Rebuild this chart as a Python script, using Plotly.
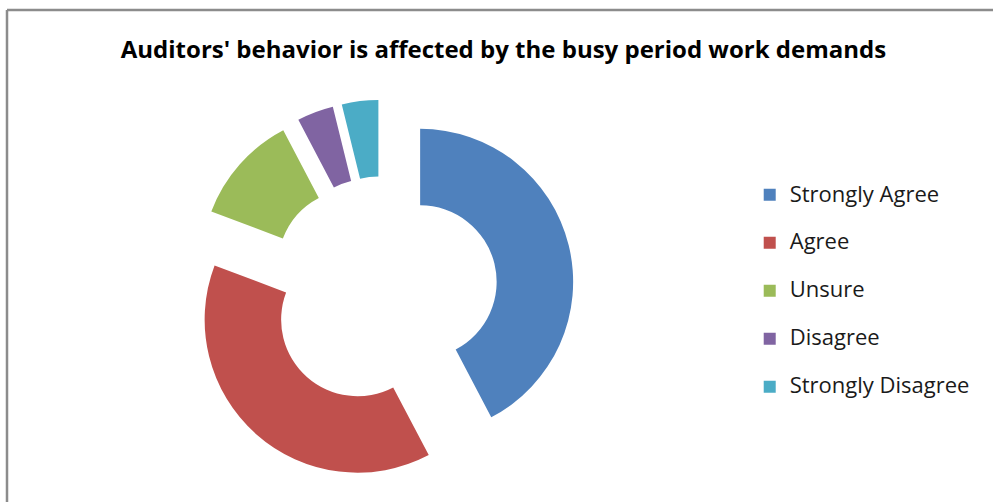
import plotly.graph_objects as go

# Survey responses
categories = ["Strongly Agree", "Agree", "Unsure", "Disagree", "Strongly Disagree"]
counts = [33, 30, 9, 3, 3]
colors = ["#4F81BD", "#C0504D", "#9BBB59", "#8064A2", "#4BACC6"]

title_text = "Auditors' behavior is affected by the busy period work demands"

# larger visible label, plus a blank second line to widen the gap between entries
legend_labels = ['<span style="font-size:22px">' + c + "</span><br> " for c in categories]

W, H = 993, 502

fig = go.Figure(
    go.Pie(
        labels=legend_labels,
        values=counts,
        hole=0.5,
        sort=False,
        direction="clockwise",
        rotation=0,
        pull=[0.25] * len(counts),
        marker=dict(colors=colors, line=dict(width=0)),
        textinfo="none",
        hoverinfo="skip",
        domain=dict(x=[0.1931, 0.5783], y=[0.0393, 0.8013]),
    )
)

fig.update_layout(
    width=W,
    height=H,
    margin=dict(l=0, r=0, t=0, b=0),
    paper_bgcolor="white",
    plot_bgcolor="white",
    title=dict(
        text="<b>" + title_text + "</b>",
        x=0.507,
        xanchor="center",
        y=1 - 50 / H,
        yanchor="middle",
        yref="container",
        font=dict(family="Open Sans", size=24, color="black"),
    ),
    legend=dict(
        x=0.755,
        xanchor="left",
        y=1 - 177 / H,
        yanchor="top",
        valign="top",
        font=dict(family="Open Sans", size=17.3, color="#1a1a1a"),
        bgcolor="rgba(0,0,0,0)",
    ),
    shapes=[
        dict(type="line", xref="paper", yref="paper",
             x0=7 / W, x1=1.01, y0=1 - 10 / H, y1=1 - 10 / H,
             line=dict(color="#8c8c8c", width=2.5)),
        dict(type="line", xref="paper", yref="paper",
             x0=7 / W, x1=7 / W, y0=1 - 10 / H, y1=-0.01,
             line=dict(color="#8c8c8c", width=2.5)),
    ],
)

fig.write_html("out.html")
